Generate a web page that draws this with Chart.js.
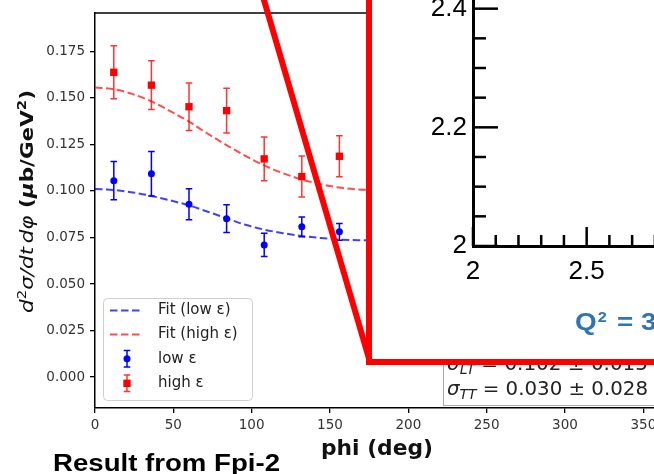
<!DOCTYPE html>
<html><head><meta charset="utf-8">
<script src="https://cdn.jsdelivr.net/npm/chart.js@4.4.1/dist/chart.umd.min.js"></script>
<style>
html,body{margin:0;padding:0;width:654px;height:474px;overflow:hidden;background:#fff;}
#main{position:absolute;left:0;top:0;}
#inset{position:absolute;left:366px;top:-50px;width:464px;height:415px;box-sizing:border-box;border:6px solid #ff0000;background:#fff;}
#insetCanvas{position:absolute;left:0;top:0;}
#q2{position:absolute;left:575px;top:309.7px;font:bold 24px 'Liberation Sans';line-height:24px;color:#2e75b6;white-space:nowrap;transform-origin:0 0;transform:scaleX(1.16);}
#q2 .sup{font-size:14px;position:relative;top:-8px;margin-left:1px;margin-right:2px;line-height:0;}
#result{position:absolute;left:53px;top:452.3px;font:bold 23px 'Liberation Sans';line-height:23px;color:#000;white-space:nowrap;transform-origin:0 0;}
</style></head>
<body>
<canvas id="main" width="670" height="474"></canvas>
<div id="inset"><canvas id="insetCanvas" width="452" height="403"></canvas></div>
<div id="q2">Q<span class="sup">2</span> = 3</div>
<div id="result">Result from Fpi-2</div>
<script>
// ---------- data ----------
const phi      = [12, 36, 60, 84, 108, 132, 156];
const lowEps   = [0.1055, 0.1092, 0.0928, 0.0851, 0.0710, 0.0807, 0.0780];
const lowErr   = [0.0103, 0.0120, 0.0083, 0.0074, 0.0062, 0.0053, 0.0045];
const highEps  = [0.1637, 0.1568, 0.1452, 0.1431, 0.1172, 0.1077, 0.1186];
const highErr  = [0.0142, 0.0131, 0.0127, 0.0120, 0.0118, 0.0110, 0.0110];
const phiFit   = [0, 12, 24, 36, 48, 60, 72, 84, 96, 108, 120, 132, 144, 156, 168, 180];
const lowFit   = [0.1010, 0.1005, 0.0992, 0.0973, 0.0949, 0.0922, 0.0888, 0.0853, 0.0818, 0.0792, 0.0773, 0.0758, 0.0747, 0.0739, 0.0735, 0.0734];
const highFit  = [0.1555, 0.1546, 0.1520, 0.1481, 0.1429, 0.1372, 0.1307, 0.1246, 0.1188, 0.1137, 0.1095, 0.1061, 0.1036, 0.1018, 0.1008, 0.1005];
const seriesLabels = ['Fit (low ε)', 'Fit (high ε)', 'low ε', 'high ε'];
const xTicks = [0, 50, 100, 150, 200, 250, 300, 350];
const yTicks = [0, 0.025, 0.05, 0.075, 0.1, 0.125, 0.15, 0.175];
const sigmaNames  = ['LT', 'TT'];
const sigmaValues = ['0.102 ± 0.015', '0.030 ± 0.028'];
const xTitle = 'phi (deg)';
// inset axes
const insetXRange = [2, 3.5], insetXStep = 0.1, insetXMajorStep = 0.5;
const insetYRange = [2, 2.45], insetYStep = 0.05, insetYMajorStep = 0.2;

Chart.defaults.font.family = 'DejaVu Sans';

const toXY = (xs, ys) => xs.map((x, i) => ({x: x, y: ys[i]}));

function drawPieces(ctx, pieces, x, y, targetW, align) {
  let total = 0;
  pieces.forEach(p => { ctx.font = p.font; p.w = ctx.measureText(p.t).width; total += p.w + (p.gap || 0); });
  const k = targetW ? targetW / total : 1;
  ctx.save();
  ctx.translate(x, y);
  ctx.scale(k, 1);
  let cx = align === 'center' ? -total / 2 : 0;
  ctx.textBaseline = 'alphabetic';
  ctx.textAlign = 'left';
  pieces.forEach(p => { cx += (p.gap || 0); ctx.font = p.font; ctx.fillText(p.t, cx, p.dy || 0); cx += p.w; });
  ctx.restore();
}

const errorBarPlugin = {
  id: 'errbars',
  beforeDatasetDraw(chart, args) {
    const ds = chart.data.datasets[args.index];
    if (!ds.errors) return;
    const ctx = chart.ctx, xs = chart.scales.x, ys = chart.scales.y;
    ctx.save();
    ctx.strokeStyle = ds.errColor;
    ctx.lineWidth = 1.5;
    ds.data.forEach((p, i) => {
      const px = xs.getPixelForValue(p.x);
      const y1 = ys.getPixelForValue(p.y + ds.errors[i]);
      const y2 = ys.getPixelForValue(p.y - ds.errors[i]);
      ctx.beginPath();
      ctx.moveTo(px, y1); ctx.lineTo(px, y2);
      ctx.moveTo(px - 3.3, y1); ctx.lineTo(px + 3.3, y1);
      ctx.moveTo(px - 3.3, y2); ctx.lineTo(px + 3.3, y2);
      ctx.stroke();
    });
    ctx.restore();
  }
};

const decorPlugin = {
  id: 'decor',
  afterDraw(chart) {
    const ctx = chart.ctx, a = chart.chartArea;
    ctx.save();
    // top spine
    ctx.strokeStyle = '#000'; ctx.lineWidth = 1.5;
    ctx.beginPath(); ctx.moveTo(a.left, a.top); ctx.lineTo(a.right, a.top); ctx.stroke();

    // y title
    ctx.fillStyle = '#111';
    ctx.save();
    ctx.translate(33, 201.5);
    ctx.rotate(-Math.PI / 2);
    drawPieces(ctx, [
      {t: 'd', font: 'italic 18px "DejaVu Sans"'},
      {t: '2', font: '12.5px "DejaVu Sans"', dy: -7},
      {t: 'σ/dt', font: 'italic 18px "DejaVu Sans"'},
      {t: 'dφ', font: 'italic 18px "DejaVu Sans"', gap: 3},
      {t: ' (', font: 'bold 18px "DejaVu Sans"'},
      {t: 'μ', font: 'bold italic 18px "DejaVu Sans"'},
      {t: 'b/GeV', font: 'bold 18px "DejaVu Sans"'},
      {t: '2', font: 'bold 12.5px "DejaVu Sans"', dy: -7},
      {t: ')', font: 'bold 18px "DejaVu Sans"'}
    ], 0, 0, 223, 'center');
    ctx.restore();

    // x title
    drawPieces(ctx, [{t: xTitle, font: 'bold 21px "DejaVu Sans"'}], (a.left + a.right) / 2, 455, 112, 'center');

    // legend
    ctx.beginPath();
    if (ctx.roundRect) ctx.roundRect(103.5, 298.5, 149, 102, 4); else ctx.rect(103.5, 298.5, 149, 102);
    ctx.fillStyle = 'rgba(255,255,255,0.85)'; ctx.fill();
    ctx.strokeStyle = '#d0d0d0'; ctx.lineWidth = 1; ctx.stroke();
    const rows = [310.5, 334.5, 358.8, 383.3];
    const dsets = chart.data.datasets;
    ctx.font = '15px "DejaVu Sans"'; ctx.textBaseline = 'middle'; ctx.textAlign = 'left';
    dsets.forEach((ds, i) => {
      const ry = rows[i];
      if (ds.type === 'line') {
        ctx.save();
        ctx.strokeStyle = ds.borderColor; ctx.lineWidth = ds.borderWidth; ctx.setLineDash(ds.borderDash);
        ctx.beginPath(); ctx.moveTo(110, ry); ctx.lineTo(141, ry); ctx.stroke();
        ctx.restore();
      } else {
        const mx = 127;
        ctx.save();
        ctx.strokeStyle = ds.errColor; ctx.lineWidth = 1.5;
        ctx.beginPath();
        ctx.moveTo(mx, ry - 8.3); ctx.lineTo(mx, ry + 8.3);
        ctx.moveTo(mx - 3.3, ry - 8.3); ctx.lineTo(mx + 3.3, ry - 8.3);
        ctx.moveTo(mx - 3.3, ry + 8.3); ctx.lineTo(mx + 3.3, ry + 8.3);
        ctx.stroke();
        ctx.fillStyle = ds.backgroundColor;
        ctx.beginPath();
        if (ds.pointStyle === 'rect') { const s = ds.pointRadius * Math.SQRT1_2; ctx.rect(mx - s, ry - s, 2 * s, 2 * s); }
        else ctx.arc(mx, ry, ds.pointRadius, 0, Math.PI * 2);
        ctx.fill();
        ctx.restore();
      }
      ctx.fillStyle = '#222';
      ctx.fillText(ds.label, 158, ry);
    });

    // fit result box
    ctx.fillStyle = '#fff';
    ctx.fillRect(444, 290, 212, 115.5);
    ctx.strokeStyle = '#aaaaaa'; ctx.lineWidth = 1;
    ctx.strokeRect(443.5, 290.5, 212, 115);
    ctx.fillStyle = '#222';
    const baselines = [370, 395];
    sigmaNames.forEach((nm, i) => {
      drawPieces(ctx, [
        {t: 'σ', font: 'italic 20px "DejaVu Sans"'},
        {t: nm, font: 'italic 14px "DejaVu Sans"', dy: 4},
        {t: ' = ' + sigmaValues[i], font: '20px "DejaVu Sans"'}
      ], 447, baselines[i], 201, 'left');
    });

    // red zoom connector line
    ctx.strokeStyle = '#ff0000'; ctx.lineWidth = 6; ctx.lineCap = 'butt';
    ctx.beginPath(); ctx.moveTo(262.5, -5); ctx.lineTo(370, 362); ctx.stroke();
    ctx.restore();
  }
};

const axisCommon = {
  grid: {display: true, drawOnChartArea: false, drawTicks: true, tickLength: 5, color: '#000', lineWidth: 1.3},
  border: {display: true, color: '#000', width: 1.5}
};

new Chart(document.getElementById('main'), {
  type: 'scatter',
  data: {
    datasets: [
      {type: 'line', label: seriesLabels[0], data: toXY(phiFit, lowFit), borderColor: 'rgba(0,0,255,0.75)', borderDash: [7.5, 3.5], borderWidth: 2, pointRadius: 0, cubicInterpolationMode: 'monotone', fill: false, order: 3},
      {type: 'line', label: seriesLabels[1], data: toXY(phiFit, highFit), borderColor: 'rgba(255,0,0,0.7)', borderDash: [7.5, 3.5], borderWidth: 2, pointRadius: 0, cubicInterpolationMode: 'monotone', fill: false, order: 3},
      {label: seriesLabels[2], data: toXY(phi, lowEps), errors: lowErr, errColor: '#0000ff', pointStyle: 'circle', pointRadius: 3.5, backgroundColor: '#0000ff', borderColor: '#0000ff', borderWidth: 0, order: 2},
      {label: seriesLabels[3], data: toXY(phi, highEps), errors: highErr, errColor: 'rgba(255,0,0,0.8)', pointStyle: 'rect', pointRadius: 5.2, backgroundColor: '#ff0000', borderColor: '#ff0000', borderWidth: 0, order: 1}
    ]
  },
  options: {
    responsive: false, animation: false, events: [],
    layout: {padding: {top: 8, right: 11, left: 0, bottom: 0}},
    plugins: {legend: {display: false}, tooltip: {enabled: false}},
    scales: {
      x: Object.assign({}, axisCommon, {
        type: 'linear', min: 0, max: 360,
        afterBuildTicks: s => { s.ticks = xTicks.map(v => ({value: v})); },
        afterFit: s => { s.height = 66; },
        ticks: {font: {family: 'DejaVu Sans', size: 13.5}, color: '#333', padding: 4, maxRotation: 0, autoSkip: false, callback: v => String(v)}
      }),
      y: Object.assign({}, axisCommon, {
        type: 'linear', min: -0.0166, max: 0.1955,
        afterBuildTicks: s => { s.ticks = yTicks.map(v => ({value: v})); },
        afterFit: s => { s.width = 95; },
        ticks: {font: {family: 'DejaVu Sans', size: 13.5}, color: '#333', padding: 5, autoSkip: false, callback: v => v.toFixed(3)}
      })
    }
  },
  plugins: [errorBarPlugin, decorPlugin]
});

// ---------- inset axes ----------
function makeTicks(r, step) { const out = []; const n = Math.round((r[1] - r[0]) / step); for (let i = 0; i <= n; i++) out.push(+(r[0] + i * step).toFixed(4)); return out; }
const insetXTicks = makeTicks(insetXRange, insetXStep);
const insetYTicks = makeTicks(insetYRange, insetYStep);
const isMajor = (v, m) => Math.abs(v / m - Math.round(v / m)) < 1e-6;

const insetTickPlugin = {
  id: 'insetTicks',
  afterDraw(chart) {
    const ctx = chart.ctx, a = chart.chartArea, xs = chart.scales.x, ys = chart.scales.y;
    ctx.save(); ctx.strokeStyle = '#000'; ctx.lineWidth = 2.5;
    xs.ticks.forEach(t => {
      const px = xs.getPixelForValue(t.value);
      ctx.beginPath(); ctx.moveTo(px, a.bottom); ctx.lineTo(px, a.bottom - (isMajor(t.value, insetXMajorStep) ? 19 : 11)); ctx.stroke();
    });
    ys.ticks.forEach(t => {
      const py = ys.getPixelForValue(t.value);
      ctx.beginPath(); ctx.moveTo(a.left, py); ctx.lineTo(a.left + (isMajor(t.value, insetYMajorStep) ? 25 : 13), py); ctx.stroke();
    });
    ctx.restore();
  }
};

new Chart(document.getElementById('insetCanvas'), {
  type: 'scatter',
  data: {datasets: []},
  options: {
    responsive: false, animation: false, events: [],
    layout: {padding: {top: 23, right: 0, left: 0, bottom: 0}},
    plugins: {legend: {display: false}, tooltip: {enabled: false}},
    scales: {
      x: {
        type: 'linear', min: insetXRange[0], max: insetXRange[1], display: true,
        afterBuildTicks: s => { s.ticks = insetXTicks.map(v => ({value: v})); },
        afterFit: s => { s.height = 113; },
        grid: {display: false, drawTicks: false, tickLength: 0},
        border: {display: true, color: '#000', width: 3},
        ticks: {autoSkip: false, maxRotation: 0, padding: 10, color: '#000', font: {family: 'Liberation Sans', size: 26},
          callback: v => (isMajor(v, insetXMajorStep) && v < insetXRange[1] - 1e-6) ? String(+v.toFixed(2)) : ''}
      },
      y: {
        type: 'linear', min: insetYRange[0], max: insetYRange[1], display: true,
        afterBuildTicks: s => { s.ticks = insetYTicks.map(v => ({value: v})); },
        afterFit: s => { s.width = 101; },
        grid: {display: false, drawTicks: false, tickLength: 0},
        border: {display: true, color: '#000', width: 3},
        ticks: {autoSkip: false, padding: 6, color: '#000', font: {family: 'Liberation Sans', size: 26},
          callback: v => isMajor(v, insetYMajorStep) ? String(+v.toFixed(2)) : ''}
      }
    }
  },
  plugins: [insetTickPlugin]
});

// stretch caption text to the reference width
(function () {
  const r = document.getElementById('result');
  const w = r.getBoundingClientRect().width;
  r.style.transform = 'scaleX(' + (227 / w) + ')';
})();
</script>
</body></html>
